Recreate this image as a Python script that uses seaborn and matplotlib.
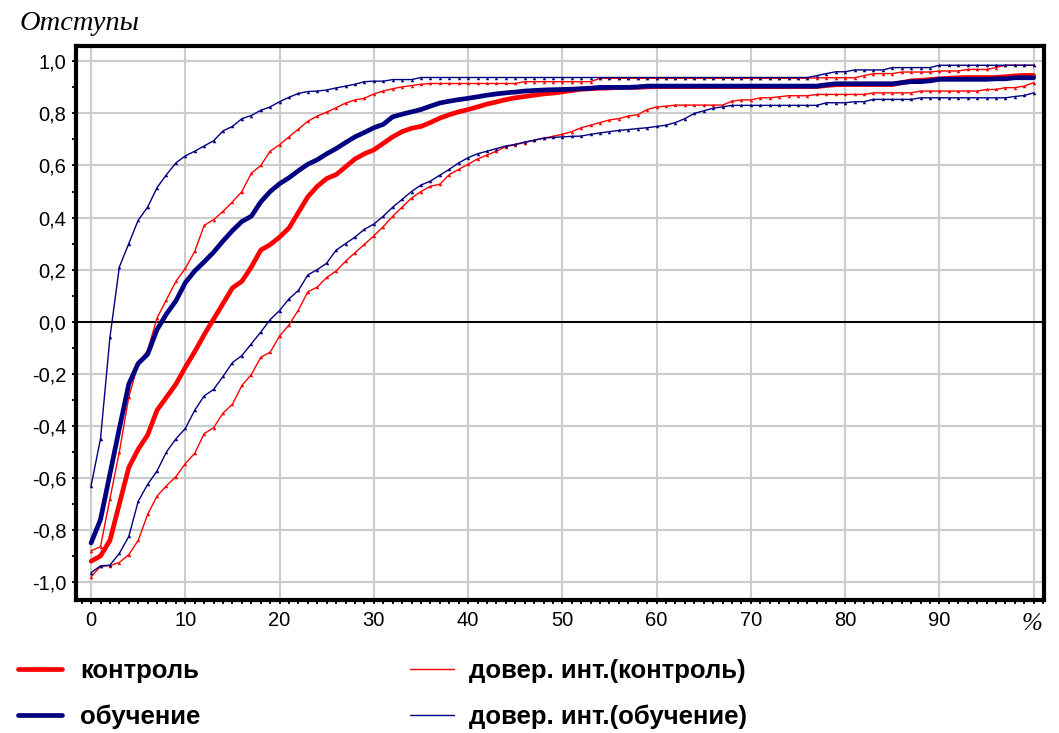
import numpy as np
import pandas as pd
import matplotlib
matplotlib.use("Agg")
import matplotlib.pyplot as plt
from matplotlib.lines import Line2D
from matplotlib.ticker import MultipleLocator, FuncFormatter
import seaborn as sns

# ---------------- data ----------------
x_pct = list(range(0, 101))

control = [
    -0.92, -0.90, -0.84, -0.70, -0.56, -0.49, -0.435, -0.34, -0.29, -0.24,
    -0.175, -0.115, -0.05, 0.01, 0.07, 0.13, 0.155, 0.21, 0.275, 0.296,
    0.325, 0.36, 0.42, 0.48, 0.52, 0.55, 0.565, 0.595, 0.625, 0.645,
    0.66, 0.685, 0.71, 0.73, 0.743, 0.75, 0.765, 0.782, 0.795, 0.806,
    0.815, 0.825, 0.836, 0.844, 0.853, 0.86, 0.865, 0.87, 0.875, 0.878,
    0.883, 0.888, 0.893, 0.895, 0.897, 0.898, 0.90, 0.90, 0.90, 0.902,
    0.903, 0.903, 0.903, 0.903, 0.903, 0.903, 0.903, 0.903, 0.903, 0.903,
    0.903, 0.903, 0.903, 0.903, 0.903, 0.903, 0.903, 0.903, 0.907, 0.91,
    0.911, 0.911, 0.911, 0.911, 0.911, 0.911, 0.918, 0.925, 0.927, 0.93,
    0.933, 0.935, 0.937, 0.938, 0.938, 0.938, 0.938, 0.941, 0.944, 0.946,
    0.946,
]

training = [
    -0.85, -0.76, -0.585, -0.41, -0.24, -0.16, -0.125, -0.03, 0.03, 0.08,
    0.15, 0.195, 0.23, 0.267, 0.31, 0.35, 0.385, 0.405, 0.46, 0.50,
    0.53, 0.553, 0.58, 0.605, 0.622, 0.645, 0.665, 0.688, 0.71, 0.727,
    0.745, 0.758, 0.787, 0.797, 0.806, 0.815, 0.828, 0.84, 0.847, 0.853,
    0.858, 0.864, 0.87, 0.875, 0.879, 0.882, 0.886, 0.888, 0.89, 0.891,
    0.892, 0.893, 0.895, 0.897, 0.90, 0.90, 0.90, 0.90, 0.902, 0.905,
    0.905, 0.905, 0.905, 0.905, 0.905, 0.905, 0.905, 0.905, 0.905, 0.905,
    0.905, 0.905, 0.905, 0.905, 0.905, 0.905, 0.905, 0.905, 0.91, 0.914,
    0.914, 0.914, 0.914, 0.914, 0.914, 0.914, 0.918, 0.922, 0.922, 0.925,
    0.931, 0.931, 0.931, 0.931, 0.931, 0.931, 0.933, 0.933, 0.937, 0.937,
    0.937,
]

ci_control_hi = [
    -0.88, -0.864, -0.68, -0.50, -0.29, -0.16, -0.11, 0.014, 0.085, 0.155,
    0.205, 0.27, 0.37, 0.392, 0.424, 0.46, 0.50, 0.57, 0.60, 0.655,
    0.68, 0.71, 0.74, 0.77, 0.79, 0.805, 0.822, 0.84, 0.852, 0.858,
    0.875, 0.886, 0.895, 0.902, 0.907, 0.912, 0.915, 0.915, 0.915, 0.915,
    0.915, 0.915, 0.915, 0.915, 0.915, 0.915, 0.922, 0.922, 0.922, 0.922,
    0.922, 0.922, 0.922, 0.922, 0.935, 0.935, 0.935, 0.935, 0.935, 0.935,
    0.935, 0.935, 0.935, 0.935, 0.935, 0.935, 0.935, 0.935, 0.935, 0.935,
    0.935, 0.935, 0.935, 0.935, 0.935, 0.935, 0.935, 0.937, 0.937, 0.937,
    0.937, 0.937, 0.945, 0.953, 0.953, 0.953, 0.959, 0.959, 0.959, 0.959,
    0.963, 0.963, 0.963, 0.969, 0.969, 0.969, 0.976, 0.985, 0.985, 0.985,
    0.985,
]

ci_control_lo = [
    -0.98, -0.94, -0.937, -0.925, -0.895, -0.84, -0.74, -0.67, -0.63, -0.595,
    -0.545, -0.505, -0.43, -0.407, -0.351, -0.317, -0.245, -0.203, -0.137, -0.117,
    -0.055, -0.012, 0.045, 0.115, 0.133, 0.17, 0.195, 0.232, 0.265, 0.297,
    0.33, 0.365, 0.405, 0.44, 0.475, 0.50, 0.52, 0.528, 0.565, 0.585,
    0.605, 0.625, 0.64, 0.655, 0.672, 0.68, 0.688, 0.697, 0.705, 0.712,
    0.72, 0.73, 0.745, 0.755, 0.765, 0.775, 0.78, 0.79, 0.795, 0.815,
    0.825, 0.828, 0.832, 0.832, 0.832, 0.832, 0.832, 0.832, 0.847, 0.852,
    0.852, 0.86, 0.86, 0.864, 0.868, 0.868, 0.868, 0.873, 0.873, 0.873,
    0.873, 0.873, 0.873, 0.879, 0.879, 0.879, 0.879, 0.879, 0.886, 0.886,
    0.886, 0.886, 0.886, 0.886, 0.886, 0.892, 0.892, 0.899, 0.899, 0.905,
    0.918,
]

ci_training_hi = [
    -0.63, -0.45, -0.06, 0.21, 0.30, 0.39, 0.44, 0.515, 0.565, 0.61,
    0.637, 0.655, 0.675, 0.695, 0.733, 0.75, 0.78, 0.792, 0.812, 0.825,
    0.845, 0.862, 0.877, 0.884, 0.886, 0.89, 0.898, 0.905, 0.912, 0.922,
    0.924, 0.924, 0.93, 0.93, 0.93, 0.938, 0.938, 0.938, 0.938, 0.938,
    0.938, 0.938, 0.938, 0.938, 0.938, 0.938, 0.938, 0.938, 0.938, 0.938,
    0.938, 0.938, 0.938, 0.938, 0.938, 0.938, 0.938, 0.938, 0.938, 0.938,
    0.938, 0.938, 0.938, 0.938, 0.938, 0.938, 0.938, 0.938, 0.938, 0.938,
    0.938, 0.938, 0.938, 0.938, 0.938, 0.938, 0.938, 0.945, 0.953, 0.96,
    0.96, 0.967, 0.967, 0.967, 0.967, 0.976, 0.976, 0.976, 0.976, 0.976,
    0.985, 0.985, 0.985, 0.985, 0.985, 0.985, 0.985, 0.985, 0.985, 0.985,
    0.985,
]

ci_training_lo = [
    -0.964, -0.938, -0.935, -0.89, -0.825, -0.69, -0.625, -0.573, -0.50, -0.45,
    -0.41, -0.34, -0.285, -0.26, -0.21, -0.157, -0.13, -0.085, -0.04, 0.008,
    0.043, 0.088, 0.12, 0.18, 0.20, 0.225, 0.275, 0.30, 0.325, 0.355,
    0.375, 0.405, 0.44, 0.47, 0.50, 0.525, 0.54, 0.563, 0.585, 0.61,
    0.63, 0.645, 0.655, 0.665, 0.675, 0.681, 0.69, 0.697, 0.705, 0.708,
    0.71, 0.712, 0.713, 0.72, 0.725, 0.73, 0.735, 0.738, 0.742, 0.745,
    0.75, 0.755, 0.765, 0.78, 0.80, 0.81, 0.82, 0.825, 0.831, 0.831,
    0.831, 0.831, 0.831, 0.831, 0.831, 0.831, 0.831, 0.831, 0.841, 0.841,
    0.841, 0.845, 0.845, 0.854, 0.854, 0.854, 0.854, 0.854, 0.86, 0.86,
    0.86, 0.86, 0.86, 0.86, 0.86, 0.86, 0.86, 0.86, 0.865, 0.869,
    0.879,
]

labels = ["контроль", "обучение", "довер. инт.(контроль)", "довер. инт.(обучение)"]
title_text = "Отступы"
x_unit = "%"

RED = "#ff0000"
NAVY = "#000080"

# ---------------- figure ----------------
sns.set_style("white")
plt.rcParams["font.family"] = ["Liberation Sans", "DejaVu Sans"]
plt.rcParams["xtick.color"] = "black"
plt.rcParams["ytick.color"] = "black"
plt.rcParams["xtick.labelcolor"] = "black"
plt.rcParams["ytick.labelcolor"] = "black"
plt.rcParams["text.color"] = "black"

W, H = 1059, 733
fig = plt.figure(figsize=(W / 100, H / 100), dpi=100)
ax_l, ax_r, ax_t, ax_b = 76, 1044, 46, 600
ax = fig.add_axes([ax_l / W, 1 - ax_b / H, (ax_r - ax_l) / W, (ax_b - ax_t) / H])

# grid
for v in range(0, 101, 10):
    ax.axvline(v, color="#cccccc", lw=1.5, zorder=0)
for v in np.arange(-1.0, 1.01, 0.2):
    ax.axhline(v, color="#cccccc", lw=1.5, zorder=0)

ax.axhline(0, color="black", lw=1.4, zorder=1)

series = [
    (ci_control_lo, RED, 1.0),
    (ci_control_hi, RED, 1.0),
    (ci_training_lo, NAVY, 1.0),
    (ci_training_hi, NAVY, 1.0),
    (control, RED, 3.4),
    (training, NAVY, 3.4),
]
for vals, col, lw in series:
    df = pd.DataFrame({"x": x_pct, "y": vals})
    sns.lineplot(data=df, x="x", y="y", ax=ax, color=col, lw=lw,
                 marker="^" if lw < 2 else None, markersize=2.5,
                 markeredgewidth=0, zorder=3, legend=False)

ax.set_xlim(-1.6, 101.1)
ax.set_ylim(-1.069, 1.059)
ax.set_xlabel("")
ax.set_ylabel("")

ax.xaxis.set_major_locator(MultipleLocator(10))
ax.xaxis.set_minor_locator(MultipleLocator(1))
ax.yaxis.set_major_locator(MultipleLocator(0.2))
ax.yaxis.set_minor_locator(MultipleLocator(0.1))
ax.xaxis.set_major_formatter(FuncFormatter(lambda v, p: "" if v > 95 else f"{v:.0f}"))
ax.yaxis.set_major_formatter(FuncFormatter(lambda v, p: f"{v:.1f}".replace(".", ",").replace("-0,0", "0,0")))

ax.tick_params(axis="both", which="both", direction="out", length=3, width=1.3,
               color="black", labelcolor="black", labelsize=14.5, bottom=True, left=True)
ax.tick_params(axis="x", pad=5)
ax.tick_params(axis="y", pad=4)

for s in ax.spines.values():
    s.set_visible(True)
    s.set_color("black")
    s.set_linewidth(3)

fig.text(20 / W, 1 - 23 / H, title_text, fontsize=20.5, style="italic",
         family=["Liberation Serif", "DejaVu Serif"], va="center", ha="left")
fig.text(1032 / W, 1 - 624 / H, x_unit, fontsize=18, style="italic",
         family=["Liberation Serif", "DejaVu Serif"], va="center", ha="center")

legend_prop = {"family": ["Liberation Sans", "DejaVu Sans"], "weight": "bold", "size": 18.5}
col1 = [Line2D([], [], color=RED, lw=3.4), Line2D([], [], color=NAVY, lw=3.4)]
col2 = [Line2D([], [], color=RED, lw=1.0), Line2D([], [], color=NAVY, lw=1.0)]
leg1 = fig.legend(col1, labels[:2], loc="upper left", bbox_to_anchor=(18 / W, 1 - 659 / H),
                  frameon=False, prop=legend_prop, handlelength=1.7, handletextpad=0.72,
                  labelspacing=0.85, borderpad=0, borderaxespad=0)
leg2 = fig.legend(col2, labels[2:], loc="upper left", bbox_to_anchor=(410 / W, 1 - 659 / H),
                  frameon=False, prop=legend_prop, handlelength=1.7, handletextpad=0.6,
                  labelspacing=0.85, borderpad=0, borderaxespad=0)

fig.savefig("out.png", dpi=100)
